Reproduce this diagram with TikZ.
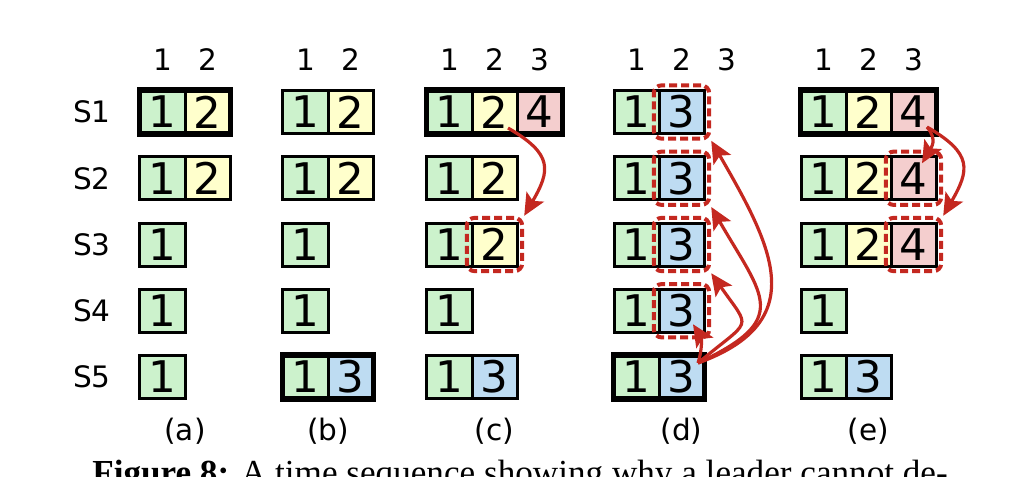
\documentclass[tikz,border=0pt]{standalone}
\usepackage{fontspec}
\setmainfont{DejaVu Sans}
\newfontfamily\capfont{Liberation Serif}
\usetikzlibrary{positioning,arrows.meta,fit}
\definecolor{tgreen}{RGB}{204,242,204}
\definecolor{tyellow}{RGB}{255,255,204}
\definecolor{tblue}{RGB}{190,220,242}
\definecolor{tpink}{RGB}{244,206,206}
\definecolor{markred}{RGB}{196,40,32}
\tikzset{
  entry/.style={draw, line width=0.075cm, minimum width=1.125cm, minimum height=1.075cm, inner sep=0pt, outer sep=0pt, font=\fontsize{31}{31}\selectfont},
  term1/.style={entry, fill=tgreen},
  term2/.style={entry, fill=tyellow},
  term3/.style={entry, fill=tblue},
  term4/.style={entry, fill=tpink},
  leaderbox/.style={draw, line width=0.14cm, inner sep=0.01cm},
  markbox/.style={draw=markred, dash pattern=on 0.2cm off 0.1cm, line width=0.1cm, rounded corners=0.2cm, inner sep=0.13cm},
  reparrow/.style={-{Stealth[length=0.55cm, width=0.5cm, inset=0.12cm]}, draw=markred, line width=0.08cm},
  srvlabel/.style={font=\fontsize{21}{21}\selectfont},
  caplabel/.style={font=\capfont\fontsize{25}{25}\selectfont, inner sep=0pt}
}
\begin{document}
\begin{tikzpicture}[x=0.025cm, y=-0.025cm]
  \useasboundingbox (0,0) rectangle (1020,476);
  \node[srvlabel] (s1) at (92,112) {S1};
  \node[srvlabel] (s2) at (92,178.25) {S2};
  \node[srvlabel] (s3) at (92,244.5) {S3};
  \node[srvlabel] (s4) at (92,310.75) {S4};
  \node[srvlabel] (s5) at (92,377) {S5};

  \node[srvlabel] (ia1) at (162.5,60) {1};
  \node[srvlabel] (ia2) at (207.5,60) {2};
  \node[srvlabel] (ib1) at (305.5,60) {1};
  \node[srvlabel] (ib2) at (350.5,60) {2};
  \node[srvlabel] (ic1) at (449.5,60) {1};
  \node[srvlabel] (ic2) at (494.5,60) {2};
  \node[srvlabel] (ic3) at (539.5,60) {3};
  \node[srvlabel] (id1) at (636.5,60) {1};
  \node[srvlabel] (id2) at (681.5,60) {2};
  \node[srvlabel] (id3) at (726.5,60) {3};
  \node[srvlabel] (ie1) at (823.5,60) {1};
  \node[srvlabel] (ie2) at (868.5,60) {2};
  \node[srvlabel] (ie3) at (913.5,60) {3};

  \node[term1] (a11) at (162.5,112) {1};
  \node[term2, right=0pt of a11] (a12) {2};
  \node[term1] (a21) at (162.5,178.25) {1};
  \node[term2, right=0pt of a21] (a22) {2};
  \node[term1] (a31) at (162.5,244.5) {1};
  \node[term1] (a41) at (162.5,310.75) {1};
  \node[term1] (a51) at (162.5,377) {1};
  \node[leaderbox, fit=(a11)(a12)] (la) {};
  \node[srvlabel] (ca) at (185,431) {(a)};

  \node[term1] (b11) at (305.5,112) {1};
  \node[term2, right=0pt of b11] (b12) {2};
  \node[term1] (b21) at (305.5,178.25) {1};
  \node[term2, right=0pt of b21] (b22) {2};
  \node[term1] (b31) at (305.5,244.5) {1};
  \node[term1] (b41) at (305.5,310.75) {1};
  \node[term1] (b51) at (305.5,377) {1};
  \node[term3, right=0pt of b51] (b52) {3};
  \node[leaderbox, fit=(b51)(b52)] (lb) {};
  \node[srvlabel] (cb) at (328,431) {(b)};

  \node[term1] (c11) at (449.5,112) {1};
  \node[term2, right=0pt of c11] (c12) {2};
  \node[term4, right=0pt of c12] (c13) {4};
  \node[term1] (c21) at (449.5,178.25) {1};
  \node[term2, right=0pt of c21] (c22) {2};
  \node[term1] (c31) at (449.5,244.5) {1};
  \node[term2, right=0pt of c31] (c32) {2};
  \node[term1] (c41) at (449.5,310.75) {1};
  \node[term1] (c51) at (449.5,377) {1};
  \node[term3, right=0pt of c51] (c52) {3};
  \node[leaderbox, fit=(c11)(c13)] (lc) {};
  \node[markbox, fit=(c32)] (hc3) {};
  \node[srvlabel] (cc) at (494.5,431) {(c)};

  \node[term1] (d11) at (636.5,112) {1};
  \node[term3, right=0pt of d11] (d12) {3};
  \node[term1] (d21) at (636.5,178.25) {1};
  \node[term3, right=0pt of d21] (d22) {3};
  \node[term1] (d31) at (636.5,244.5) {1};
  \node[term3, right=0pt of d31] (d32) {3};
  \node[term1] (d41) at (636.5,310.75) {1};
  \node[term3, right=0pt of d41] (d42) {3};
  \node[term1] (d51) at (636.5,377) {1};
  \node[term3, right=0pt of d51] (d52) {3};
  \node[leaderbox, fit=(d51)(d52)] (ld) {};
  \node[markbox, fit=(d12)] (hd1) {};
  \node[markbox, fit=(d22)] (hd2) {};
  \node[markbox, fit=(d32)] (hd3) {};
  \node[markbox, fit=(d42)] (hd4) {};
  \node[srvlabel] (cd) at (681.5,431) {(d)};

  \node[term1] (e11) at (823.5,112) {1};
  \node[term2, right=0pt of e11] (e12) {2};
  \node[term4, right=0pt of e12] (e13) {4};
  \node[term1] (e21) at (823.5,178.25) {1};
  \node[term2, right=0pt of e21] (e22) {2};
  \node[term4, right=0pt of e22] (e23) {4};
  \node[term1] (e31) at (823.5,244.5) {1};
  \node[term2, right=0pt of e31] (e32) {2};
  \node[term4, right=0pt of e32] (e33) {4};
  \node[term1] (e41) at (823.5,310.75) {1};
  \node[term1] (e51) at (823.5,377) {1};
  \node[term3, right=0pt of e51] (e52) {3};
  \node[leaderbox, fit=(e11)(e13)] (le) {};
  \node[markbox, fit=(e23)] (he2) {};
  \node[markbox, fit=(e33)] (he3) {};
  \node[srvlabel] (ce) at (868.5,431) {(e)};

  \coordinate (cs) at ([shift={(-9,-5.5)}]c12.south east);
  \coordinate (ds) at ([shift={(-6,7.5)}]d52.north east);
  \coordinate (dt) at ([shift={(-11,-8)}]d42.south east);
  \coordinate (es) at ([shift={(-9,-6.5)}]e13.south east);
  \coordinate (et) at ([shift={(-14,6.5)}]e23.north east);
  \draw[reparrow] (cs) to[out=-30, in=60, looseness=1.5] (hc3.north east);
  \draw[reparrow] (ds) to[out=20, in=-60, looseness=1.4] (hd1.south east);
  \draw[reparrow] (ds) to[out=25, in=-60, looseness=1.7] (hd2.south east);
  \draw[reparrow] (ds) to[out=40, in=-55, looseness=2] (hd3.south east);
  \draw[reparrow] (ds) to[bend right=25] (dt);
  \draw[reparrow] (es) to[out=-50, in=60, looseness=1.2] (et);
  \draw[reparrow] (es) to[out=-30, in=60, looseness=1.5] (he3.north east);

  \node[caplabel, anchor=base west] (cap) at (92,484) {\textbf{Figure 8:} A time sequence showing why a leader cannot de-};
\end{tikzpicture}
\end{document}
